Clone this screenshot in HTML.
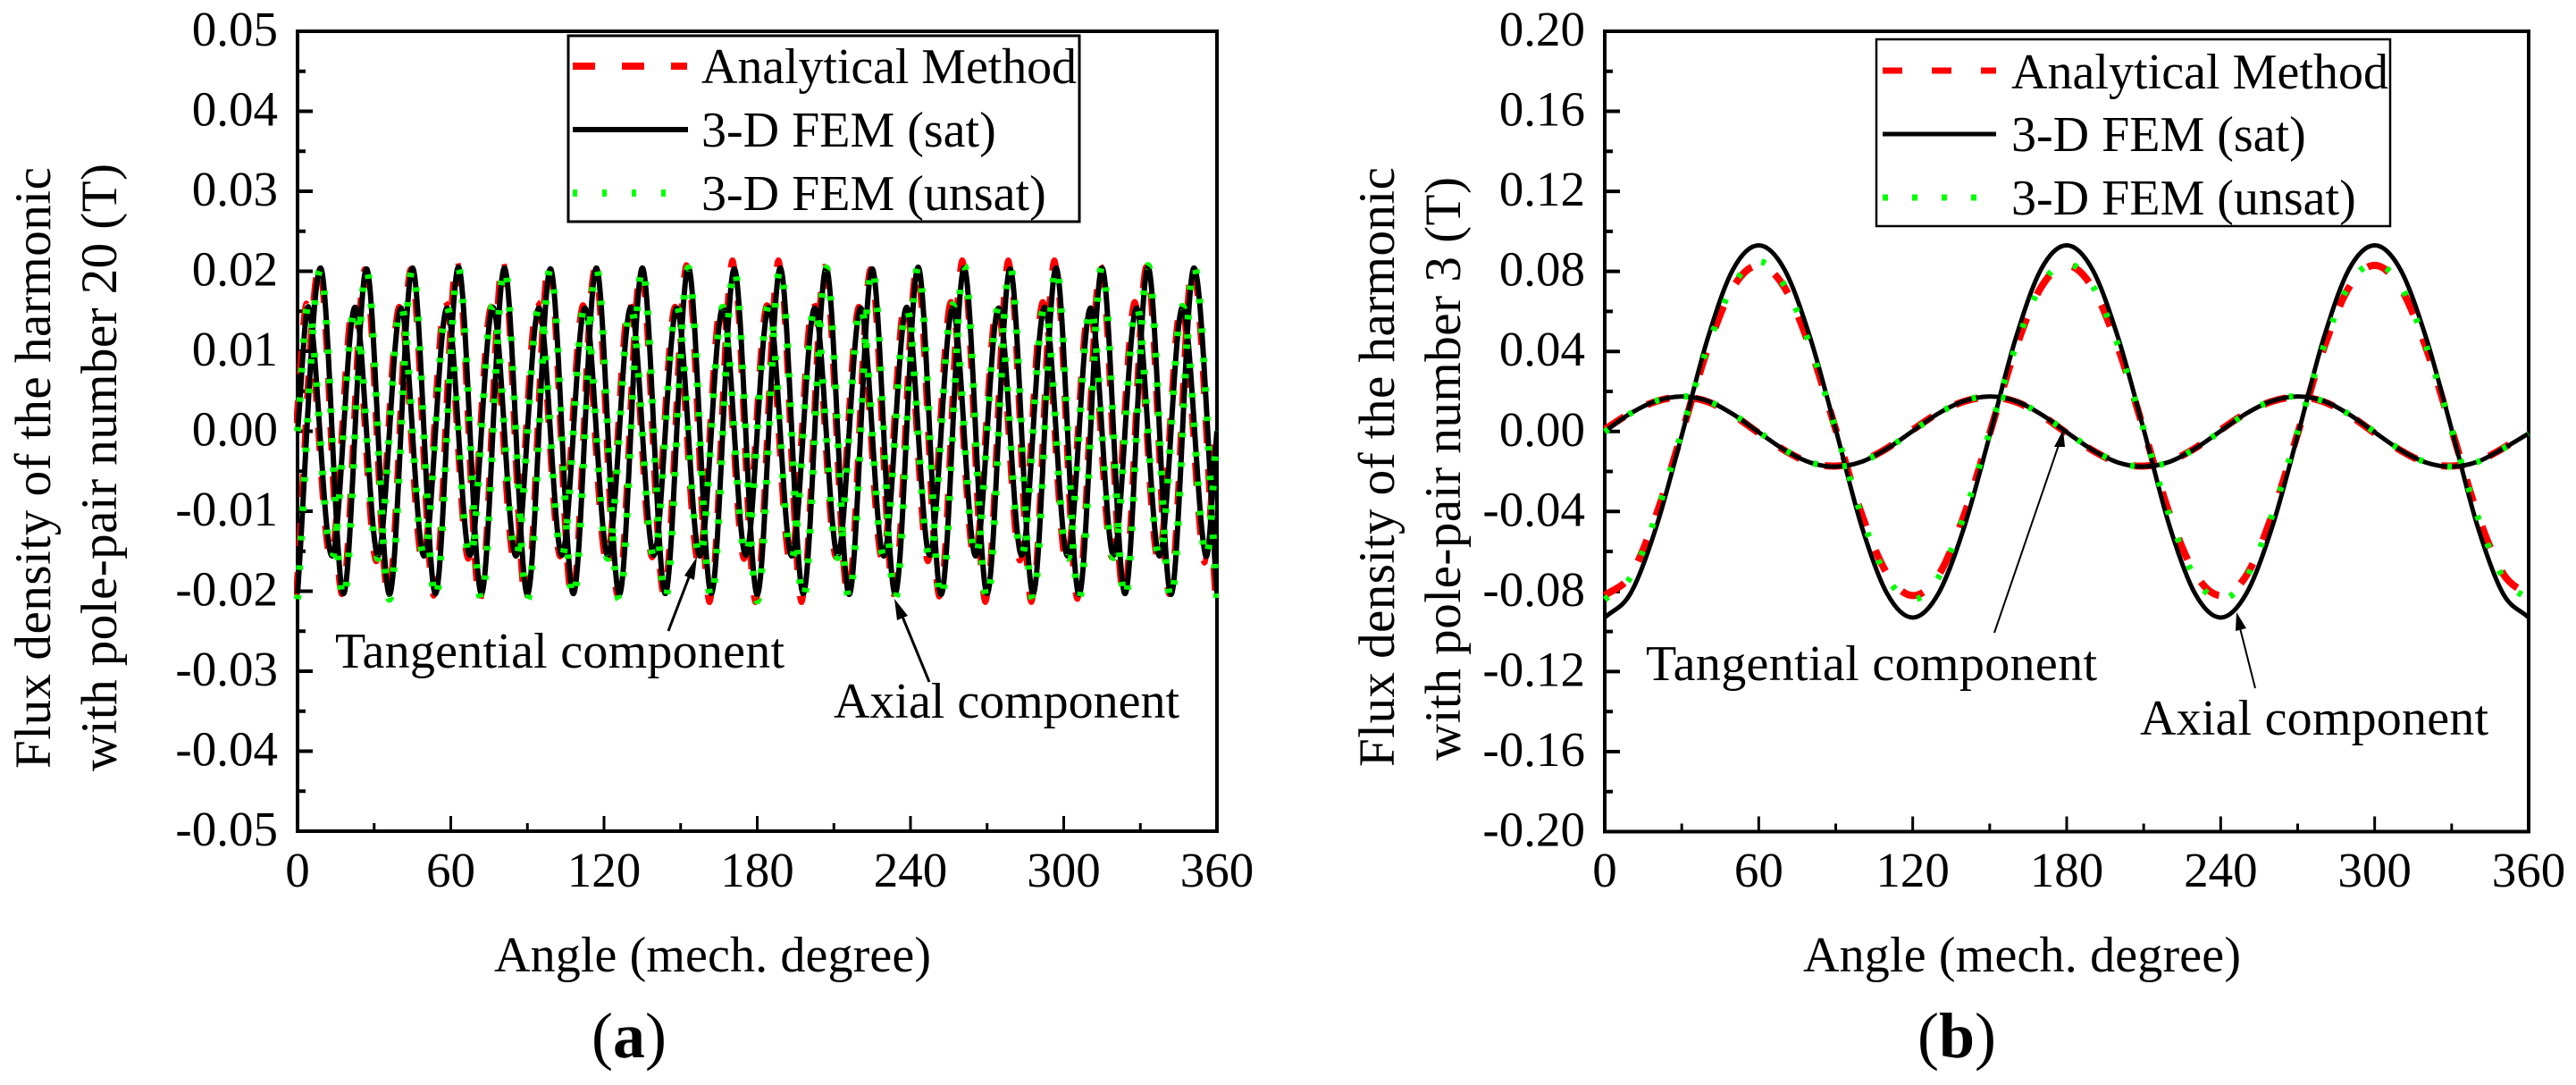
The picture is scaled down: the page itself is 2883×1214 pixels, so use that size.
<!DOCTYPE html>
<html lang="en">
<head>
<meta charset="utf-8">
<title>Flux density harmonics</title>
<style>
html,body{margin:0;padding:0;background:#fff;}
svg{display:block;}
text{font-family:"Liberation Serif",serif;fill:#000;}
</style>
</head>
<body>
<svg id="figure" xmlns="http://www.w3.org/2000/svg" width="2883" height="1214" viewBox="0 0 2883 1214">
  <rect x="0" y="0" width="2883" height="1214" fill="#fff"/>
  <defs>
    <clipPath id="clip-a"><rect x="329" y="30" width="1035" height="905"/></clipPath>
    <clipPath id="clip-b"><rect x="1792" y="30" width="1040" height="905"/></clipPath>
  </defs>

  <g id="panel-a"></g>
  <g id="panel-b"></g>

  <!-- Panel a: titles -->
  <text transform="rotate(-90 56 860)" x="56" y="860" font-size="57" textLength="673" lengthAdjust="spacing">Flux density of the harmonic</text>
  <text transform="rotate(-90 130 863)" x="130" y="863" font-size="57" textLength="680" lengthAdjust="spacing">with pole-pair number 20 (T)</text>
  <text x="553" y="1087" font-size="56" textLength="489" lengthAdjust="spacing">Angle (mech. degree)</text>
  <text x="704" y="1183" font-size="72" text-anchor="middle">(<tspan font-weight="bold">a</tspan>)</text>

  <!-- Panel a: legend -->
  <g>
    <rect x="636" y="40" width="572" height="208" fill="#fff" stroke="#000" stroke-width="3"/>
    <line x1="641" y1="74" x2="769" y2="74" stroke="#ff0000" stroke-width="8" stroke-dasharray="25 30"/>
    <text x="785" y="93" font-size="56" textLength="420" lengthAdjust="spacing">Analytical Method</text>
    <line x1="641" y1="145" x2="770" y2="145" stroke="#000" stroke-width="6"/>
    <text x="785" y="164" font-size="56">3-D FEM (sat)</text>
    <line x1="641" y1="216" x2="746" y2="216" stroke="#00ff00" stroke-width="8" stroke-dasharray="5 28"/>
    <text x="785" y="235" font-size="56">3-D FEM (unsat)</text>
  </g>

  <!-- Panel a: annotations -->
  <text x="375" y="747" font-size="56" textLength="503" lengthAdjust="spacing">Tangential component</text>
  <text x="933" y="803" font-size="56" textLength="387" lengthAdjust="spacing">Axial component</text>
  <line x1="748" y1="706" x2="771" y2="646" stroke="#000" stroke-width="3"/>
  <polygon points="780,623 777,649 766,644" fill="#000"/>
  <line x1="1040" y1="763" x2="1010" y2="690" stroke="#000" stroke-width="3"/>
  <polygon points="1001,670 1016,689 1004,694" fill="#000"/>

  <!-- Panel b: titles -->
  <text transform="rotate(-90 1560 858)" x="1560" y="858" font-size="57" textLength="671" lengthAdjust="spacing">Flux density of the harmonic</text>
  <text transform="rotate(-90 1634 851)" x="1634" y="851" font-size="57" textLength="653" lengthAdjust="spacing">with pole-pair number 3 (T)</text>
  <text x="2018" y="1087" font-size="56" textLength="490" lengthAdjust="spacing">Angle (mech. degree)</text>
  <text x="2190" y="1183" font-size="72" text-anchor="middle">(<tspan font-weight="bold">b</tspan>)</text>

  <!-- Panel b: legend -->
  <g>
    <rect x="2100" y="44" width="575" height="209" fill="#fff" stroke="#000" stroke-width="2.5"/>
    <line x1="2107" y1="79" x2="2234" y2="79" stroke="#ff0000" stroke-width="7" stroke-dasharray="22 33"/>
    <text x="2251" y="99" font-size="56" textLength="422" lengthAdjust="spacing">Analytical Method</text>
    <line x1="2107" y1="150" x2="2234" y2="150" stroke="#000" stroke-width="5"/>
    <text x="2251" y="169" font-size="56">3-D FEM (sat)</text>
    <line x1="2107" y1="221" x2="2212" y2="221" stroke="#00ff00" stroke-width="7" stroke-dasharray="6 27"/>
    <text x="2251" y="240" font-size="56">3-D FEM (unsat)</text>
  </g>

  <!-- Panel b: annotations -->
  <text x="1842" y="761" font-size="56" textLength="505" lengthAdjust="spacing">Tangential component</text>
  <text x="2395" y="822" font-size="56" textLength="390" lengthAdjust="spacing">Axial component</text>
  <line x1="2232" y1="708" x2="2304" y2="498" stroke="#000" stroke-width="2"/>
  <polygon points="2309,481 2311,500 2299,500" fill="#000"/>
  <line x1="2524" y1="770" x2="2507" y2="703" stroke="#000" stroke-width="2"/>
  <polygon points="2503,685 2514,703 2502,706" fill="#000"/>
</svg>

<script>
/* ---------- shared axis data ---------- */
const xTicks = [0, 60, 120, 180, 240, 300, 360];
const xMinorTicks = [30, 90, 150, 210, 270, 330];
const xTickLabels = ["0", "60", "120", "180", "240", "300", "360"];

/* ---------- panel (a): pole-pair number 20 ---------- */
const aYTicks = [0.05, 0.04, 0.03, 0.02, 0.01, 0, -0.01, -0.02, -0.03, -0.04, -0.05];
const aYMinorTicks = [0.045, 0.035, 0.025, 0.015, 0.005, -0.005, -0.015, -0.025, -0.035, -0.045];
const aYTickLabels = ["0.05", "0.04", "0.03", "0.02", "0.01", "0.00", "-0.01", "-0.02", "-0.03", "-0.04", "-0.05"];

/* angles (deg) of the read extrema */
const aAxialAngles = [
  0, 9, 18, 27, 36, 45, 54, 63, 72, 81,
  90, 99, 108, 117, 126, 135, 144, 153, 162, 171,
  180, 189, 198, 207, 216, 225, 234, 243, 252, 261,
  270, 279, 288, 297, 306, 315, 324, 333, 342, 351,
  360];
const aTangentialAngles = [
  0, 4.5, 13.5, 22.5, 31.5, 40.5, 49.5, 58.5, 67.5, 76.5,
  85.5, 94.5, 103.5, 112.5, 121.5, 130.5, 139.5, 148.5, 157.5, 166.5,
  175.5, 184.5, 193.5, 202.5, 211.5, 220.5, 229.5, 238.5, 247.5, 256.5,
  265.5, 274.5, 283.5, 292.5, 301.5, 310.5, 319.5, 328.5, 337.5, 346.5,
  355.5, 360];

const aAxialAnalytical = [
  -.0205, .0206, -.0204, .0203, -.0204, .0203, -.0206, .0214, -.0214, .0214,
  -.0214, .0212, -.0210, .0203, -.0206, .0203, -.0204, .0208, -.0214, .0214,
  -.0214, .0214, -.0214, .0206, -.0204, .0203, -.0204, .0203, -.0207, .0214,
  -.0214, .0214, -.0214, .0214, -.0210, .0208, -.0205, .0206, -.0204, .0206,
  -.0210];
const aAxialSat = [
  -.0203, .0204, -.0203, .0203, -.0204, .0204, -.0203, .0205, -.0203, .0204,
  -.0204, .0203, -.0203, .0204, -.0204, .0204, -.0203, .0205, -.0203, .0203,
  -.0204, .0204, -.0203, .0204, -.0204, .0203, -.0203, .0205, -.0204, .0204,
  -.0203, .0203, -.0203, .0204, -.0204, .0204, -.0203, .0205, -.0204, .0204,
  -.0203];
const aAxialUnsat = [
  -.0210, .0203, -.0211, .0203, -.0210, .0204, -.0211, .0204, -.0212, .0205,
  -.0211, .0204, -.0210, .0205, -.0211, .0205, -.0210, .0204, -.0211, .0204,
  -.0212, .0205, -.0211, .0204, -.0210, .0205, -.0210, .0206, -.0211, .0207,
  -.0212, .0207, -.0211, .0206, -.0210, .0207, -.0211, .0207, -.0212, .0207,
  -.0210];

const aTangentialAnalytical = [
  .0010, .0158, -.0158, .0162, -.0163, .0156, -.0162, .0162, -.0160, .0156,
  -.0163, .0162, -.0157, .0158, -.0162, .0162, -.0158, .0156, -.0163, .0162,
  -.0160, .0158, -.0163, .0162, -.0158, .0156, -.0160, .0162, -.0163, .0162,
  -.0158, .0156, -.0162, .0162, -.0163, .0156, -.0158, .0162, -.0160, .0157,
  -.0163, .0000];
const aTangentialSat = [
  .0000, .0154, -.0156, .0155, -.0155, .0154, -.0156, .0154, -.0155, .0155,
  -.0156, .0154, -.0155, .0154, -.0156, .0155, -.0155, .0154, -.0156, .0154,
  -.0155, .0155, -.0156, .0154, -.0155, .0154, -.0156, .0155, -.0155, .0154,
  -.0156, .0154, -.0155, .0155, -.0156, .0154, -.0155, .0154, -.0156, .0155,
  -.0155, .0000];
const aTangentialUnsat = [
  .0000, .0157, -.0158, .0155, -.0159, .0158, -.0157, .0156, -.0159, .0157,
  -.0158, .0155, -.0157, .0158, -.0159, .0156, -.0158, .0157, -.0159, .0155,
  -.0157, .0158, -.0159, .0156, -.0158, .0157, -.0157, .0155, -.0159, .0158,
  -.0158, .0156, -.0157, .0157, -.0159, .0155, -.0158, .0158, -.0159, .0156,
  -.0158, .0000];

/* ---------- panel (b): pole-pair number 3 ---------- */
const bYTicks = [0.20, 0.16, 0.12, 0.08, 0.04, 0, -0.04, -0.08, -0.12, -0.16, -0.20];
const bYMinorTicks = [0.18, 0.14, 0.10, 0.06, 0.02, -0.02, -0.06, -0.10, -0.14, -0.18];
const bYTickLabels = ["0.20", "0.16", "0.12", "0.08", "0.04", "0.00", "-0.04", "-0.08", "-0.12", "-0.16", "-0.20"];

const bAngles = [
  0, 10, 20, 30, 40, 50, 60, 70, 80, 90,
  100, 110, 120, 130, 140, 150, 160, 170, 180, 190,
  200, 210, 220, 230, 240, 250, 260, 270, 280, 290,
  300, 310, 320, 330, 340, 350, 360];

const bAxialAnalytical = [
  -.082, -.072, -.042, -.001, .041, .072, .083, .072, .042, .001,
  -.041, -.071, -.082, -.072, -.042, -.001, .041, .072, .083, .072,
  .042, .001, -.041, -.071, -.082, -.072, -.042, -.001, .041, .072,
  .083, .072, .042, .001, -.041, -.071, -.082];
const bAxialSat = [
  -.093, -.081, -.048, -.002, .046, .081, .093, .081, .047, .001,
  -.047, -.081, -.093, -.081, -.048, -.002, .046, .081, .093, .081,
  .047, .001, -.047, -.081, -.093, -.081, -.048, -.002, .046, .081,
  .093, .081, .047, .001, -.047, -.081, -.093];
const bAxialUnsat = [
  -.084, -.073, -.042, 0, .042, .073, .085, .073, .043, .001,
  -.042, -.073, -.084, -.073, -.042, 0, .042, .073, .084, .073,
  .043, .001, -.042, -.073, -.084, -.073, -.042, 0, .042, .073,
  .084, .073, .043, .001, -.042, -.073, -.084];

const bTangentialAnalytical = [
  .0010, .0092, .0150, .0172, .0149, .0082, -.0008, -.0094, -.0156, -.0173,
  -.0148, -.0084, .0008, .0092, .0150, .0172, .0149, .0082, -.0008, -.0094,
  -.0156, -.0173, -.0148, -.0084, .0008, .0092, .0150, .0172, .0149, .0082,
  -.0008, -.0094, -.0156, -.0173, -.0148, -.0084, .0002];
const bTangentialSat = [
  .0000, .0090, .0152, .0175, .0153, .0086, -.0004, -.0092, -.0155, -.0176,
  -.0152, -.0086, .0002, .0090, .0152, .0175, .0153, .0086, -.0004, -.0092,
  -.0155, -.0176, -.0152, -.0086, .0002, .0090, .0152, .0175, .0153, .0086,
  -.0004, -.0092, -.0155, -.0176, -.0152, -.0086, -.0010];
const bTangentialUnsat = [
  -.0002, .0090, .0153, .0176, .0152, .0086, -.0002, -.0091, -.0154, -.0176,
  -.0153, -.0086, .0001, .0090, .0153, .0176, .0152, .0086, -.0002, -.0091,
  -.0154, -.0176, -.0153, -.0086, .0001, .0090, .0153, .0176, .0152, .0086,
  -.0002, -.0091, -.0154, -.0176, -.0153, -.0086, -.0012];

/* analytical trace sits slightly ahead of FEM in panel (a), degrees */
const aAnalyticalLead = 0.7;

const SVG_NS = "http://www.w3.org/2000/svg";

function makeEl(tag, parent) {
  const el = document.createElementNS(SVG_NS, tag);
  parent.appendChild(el);
  return el;
}

/* smooth cubic path through data points, tangents from neighbouring points */
function smoothPath(xs, ys) {
  const n = xs.length;
  const tang = [];
  for (let i = 0; i < n; i++) {
    const a = Math.max(i - 1, 0);
    const b = Math.min(i + 1, n - 1);
    tang.push((ys[b] - ys[a]) / (xs[b] - xs[a]));
  }
  let d = "M" + xs[0].toFixed(2) + " " + ys[0].toFixed(2);
  for (let i = 0; i < n - 1; i++) {
    const h = (xs[i + 1] - xs[i]) / 3;
    d += "C" + (xs[i] + h).toFixed(2) + " " + (ys[i] + tang[i] * h).toFixed(2) + " " +
      (xs[i + 1] - h).toFixed(2) + " " + (ys[i + 1] - tang[i + 1] * h).toFixed(2) + " " +
      xs[i + 1].toFixed(2) + " " + ys[i + 1].toFixed(2);
  }
  return d;
}

function drawAxes(panel, left, right, top, bottom, yMax, yTicks, yMinor, yLabels, labelRight) {
  const g = document.getElementById(panel);
  const sx = a => left + a * (right - left) / 360;
  const sy = v => top + (yMax - v) * (bottom - top) / (2 * yMax);

  const frame = makeEl("rect", g);
  
  
  frame.setAttribute("x", left);
  frame.setAttribute("y", top);
  frame.setAttribute("width", right - left);
  frame.setAttribute("height", bottom - top);
  frame.setAttribute("fill", "none");
  frame.setAttribute("stroke", "#000");
  frame.setAttribute("stroke-width", "4");

  yTicks.forEach((v, i) => {
    const t = makeEl("line", g);
    
    
    t.setAttribute("x1", left);
    t.setAttribute("x2", left + 17);
    t.setAttribute("y1", sy(v));
    t.setAttribute("y2", sy(v));
    t.setAttribute("stroke", "#000");
    t.setAttribute("stroke-width", "4");
    const l = makeEl("text", g);
    
    
    l.setAttribute("x", labelRight);
    l.setAttribute("y", sy(v) + 16);
    l.setAttribute("font-size", "55");
    l.setAttribute("text-anchor", "end");
    l.textContent = yLabels[i];
  });
  yMinor.forEach(v => {
    const t = makeEl("line", g);
    
    
    t.setAttribute("x1", left);
    t.setAttribute("x2", left + 9);
    t.setAttribute("y1", sy(v));
    t.setAttribute("y2", sy(v));
    t.setAttribute("stroke", "#000");
    t.setAttribute("stroke-width", "4");
  });
  xTicks.forEach((a, i) => {
    const t = makeEl("line", g);
    
    
    t.setAttribute("x1", sx(a));
    t.setAttribute("x2", sx(a));
    t.setAttribute("y1", bottom);
    t.setAttribute("y2", bottom - 17);
    t.setAttribute("stroke", "#000");
    t.setAttribute("stroke-width", "3");
    const l = makeEl("text", g);
    
    
    l.setAttribute("x", sx(a));
    l.setAttribute("y", 992);
    l.setAttribute("font-size", "55");
    l.setAttribute("text-anchor", "middle");
    l.textContent = xTickLabels[i];
  });
  xMinorTicks.forEach(a => {
    const t = makeEl("line", g);
    
    
    t.setAttribute("x1", sx(a));
    t.setAttribute("x2", sx(a));
    t.setAttribute("y1", bottom);
    t.setAttribute("y2", bottom - 9);
    t.setAttribute("stroke", "#000");
    t.setAttribute("stroke-width", "3");
  });
  return { g, sx, sy };
}

function seriesPath(axes, angles, values, clipId, lead) {
  const p = makeEl("path", axes.g);
  p.setAttribute("d", smoothPath(angles.map(a => axes.sx(a - lead)), values.map(v => axes.sy(v))));
  p.setAttribute("fill", "none");
  p.setAttribute("stroke-linejoin", "round");
  p.setAttribute("clip-path", "url(#" + clipId + ")");
  return p;
}

function drawPanelSeries(axes, clipId, comps, lead, w) {
  comps.forEach(c => {
    const red = seriesPath(axes, c.angles, c.analytical, clipId, lead);
    
    
    red.setAttribute("stroke", "#ff0000");
    red.setAttribute("stroke-width", w.red);
    red.setAttribute("stroke-dasharray", "26 29");
  });
  comps.forEach(c => {
    const black = seriesPath(axes, c.angles, c.sat, clipId, 0);
    
    
    black.setAttribute("stroke", "#000");
    black.setAttribute("stroke-width", w.black);
  });
  comps.forEach(c => {
    const green = seriesPath(axes, c.angles, c.unsat, clipId, 0);
    
    
    green.setAttribute("stroke", "#00ff00");
    green.setAttribute("stroke-width", w.green);
    green.setAttribute("stroke-dasharray", "5 28");
  });
}

const axesA = drawAxes("panel-a", 333, 1362, 35, 930, 0.05, aYTicks, aYMinorTicks, aYTickLabels, 311);
drawPanelSeries(axesA, "clip-a", [
  { name: "tangential-a", angles: aTangentialAngles, analytical: aTangentialAnalytical, sat: aTangentialSat, unsat: aTangentialUnsat },
  { name: "axial-a", angles: aAxialAngles, analytical: aAxialAnalytical, sat: aAxialSat, unsat: aAxialUnsat }
], aAnalyticalLead, { red: 6, black: 6, green: 8 });

const axesB = drawAxes("panel-b", 1796, 2830, 35, 930.5, 0.2, bYTicks, bYMinorTicks, bYTickLabels, 1774);
drawPanelSeries(axesB, "clip-b", [
  { name: "tangential-b", angles: bAngles, analytical: bTangentialAnalytical, sat: bTangentialSat, unsat: bTangentialUnsat },
  { name: "axial-b", angles: bAngles, analytical: bAxialAnalytical, sat: bAxialSat, unsat: bAxialUnsat }
], 0, { red: 8, black: 5, green: 7 });
</script>
</body>
</html>
